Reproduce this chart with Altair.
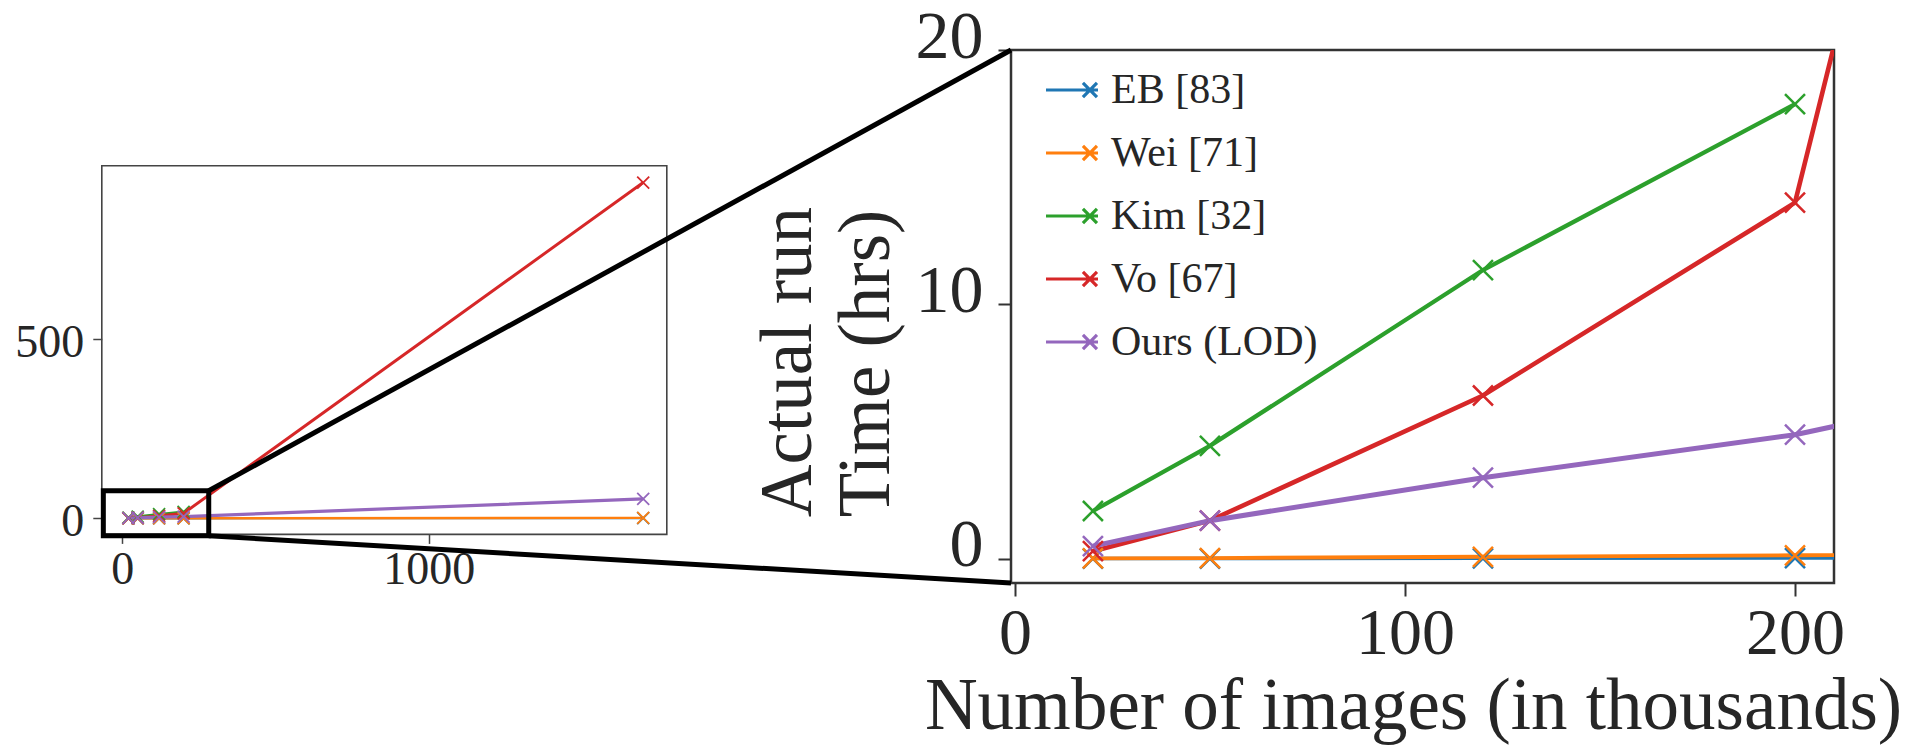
import altair as alt
import pandas as pd

# ---------------- data ----------------
methods = ["EB [83]", "Wei [71]", "Kim [32]", "Vo [67]", "Ours (LOD)"]
colors = ["#1f77b4", "#ff7f0e", "#2ca02c", "#d62728", "#9467bd"]
x_images = [20, 50, 120, 200, 1700]          # thousands of images
eb_hrs = [0.01, 0.01, 0.02, 0.03, 0.3]
wei_hrs = [0.02, 0.03, 0.08, 0.14, 1.2]
kim_hrs = [1.88, 4.44, 11.35, 17.87]
vo_hrs = [0.3, 1.5, 6.42, 14.0, 938]
ours_hrs = [0.5, 1.5, 3.19, 4.88, 54]

big_x_ticks = [0, 100, 200]
big_y_ticks = [0, 10, 20]
small_x_ticks = [0, 1000]
small_y_ticks = [0, 500]

big_x_domain = [-1, 210]
big_y_domain = [-0.95, 20]
small_x_domain = [-67, 1777]
small_y_domain = [-45, 985]
zoom_x = [-62, 282]
zoom_y = [-49, 77]

# ---------------- layout (pixels) ----------------
FONT = "Liberation Serif"
TXT = "#262626"
W, H = 823, 533
PAD_L, PAD_T = 1003, 42
# overview panel box, in the main plot's pixel frame
SX_RANGE = [-909.2, -344.2]
SY_RANGE = [484.4, 115.7]

series = [eb_hrs, wei_hrs, kim_hrs, vo_hrs, ours_hrs]
rows = []
for m, ys in zip(methods, series):
    for xv, yv in zip(x_images, ys):
        rows.append({"method": m, "x": xv, "y": yv})
df = pd.DataFrame(rows)


def sx(v):
    d0, d1 = small_x_domain
    r0, r1 = SX_RANGE
    return r0 + (v - d0) / (d1 - d0) * (r1 - r0)


def sy(v):
    d0, d1 = small_y_domain
    r0, r1 = SY_RANGE
    return r0 + (v - d0) / (d1 - d0) * (r1 - r0)


XPATH = "M-1,-1L1,1M-1,1L1,-1"
LEGPATH = "M-1,0L1,0M0.42,-0.27L0.96,0.27M0.42,0.27L0.96,-0.27"

legend = alt.Legend(
    orient="none", legendX=33, legendY=12, title=None,
    symbolType=LEGPATH, symbolSize=2704, symbolStrokeWidth=3.2,
    symbolFillColor="transparent",
    labelFont=FONT, labelFontSize=42, labelColor=TXT, labelOffset=11,
    rowPadding=14, padding=0, labelLimit=400,
)
color_scale = alt.Scale(domain=methods, range=colors)
color_enc = alt.Color("method:N", scale=color_scale, legend=legend)

# ---------------- overview (small) panel ----------------
xs = alt.X("x:Q", title=None,
           scale=alt.Scale(domain=small_x_domain, range=SX_RANGE, nice=False, zero=False),
           axis=alt.Axis(orient="bottom", offset=SY_RANGE[0] - H, values=small_x_ticks,
                         tickSize=9, tickWidth=1.5, tickColor="#444", domain=False, grid=False,
                         labelFont=FONT, labelFontSize=46, labelColor=TXT, labelPadding=4,
                         labelFlush=False, format="d"))
ys_ = alt.Y("y:Q", title=None,
            scale=alt.Scale(domain=small_y_domain, range=SY_RANGE, nice=False, zero=False),
            axis=alt.Axis(orient="left", offset=-SX_RANGE[0], values=small_y_ticks,
                          tickSize=9, tickWidth=1.5, tickColor="#444", domain=False, grid=False,
                          labelFont=FONT, labelFontSize=46, labelColor=TXT, labelPadding=9,
                          labelOffset=3, labelFlush=False, format="d"))

small_lines = alt.Chart(df).mark_line().encode(
    x=xs, y=ys_, color=color_enc,
    strokeWidth=alt.StrokeWidth("method:N", scale=alt.Scale(domain=methods, range=[2.2, 3.2, 2.5, 2.6, 3.2]), legend=None),
    order=alt.Order("x:Q"),
)
small_pts = alt.Chart(df).mark_point(shape=XPATH, filled=False, size=144, strokeWidth=1.8, opacity=1).encode(
    x=xs, y=ys_, color=color_enc,
)
frame_df = pd.DataFrame([{"x": small_x_domain[0], "x2": small_x_domain[1],
                          "y": small_y_domain[0], "y2": small_y_domain[1]}])
small_frame = alt.Chart(frame_df).mark_rect(fillOpacity=0, stroke="#444", strokeWidth=1.6).encode(
    x=xs, x2="x2:Q", y=ys_, y2="y2:Q")
zoom_df = pd.DataFrame([{"x": zoom_x[0], "x2": zoom_x[1], "y": zoom_y[0], "y2": zoom_y[1]}])
zoom_rect = alt.Chart(zoom_df).mark_rect(fillOpacity=0, stroke="black", strokeWidth=5).encode(
    x=xs, x2="x2:Q", y=ys_, y2="y2:Q")

small = alt.layer(small_lines, small_pts, small_frame, zoom_rect)

# ---------------- connectors ----------------
conn_df = pd.DataFrame([
    {"px": sx(zoom_x[1]), "py": sy(zoom_y[1]), "px2": 0, "py2": 0},
    {"px": sx(zoom_x[1]), "py": sy(zoom_y[0]), "px2": 0, "py2": H},
])
connectors = alt.Chart(conn_df).mark_rule(color="black", strokeWidth=5).encode(
    x=alt.X("px:Q", scale=None, axis=None), x2="px2:Q",
    y=alt.Y("py:Q", scale=None, axis=None), y2="py2:Q",
)

# ---------------- main (zoomed) panel ----------------
xb = alt.X("x:Q",
           scale=alt.Scale(domain=big_x_domain, nice=False, zero=False),
           axis=alt.Axis(orient="bottom", values=big_x_ticks, tickSize=13, tickWidth=2,
                         tickColor="#333", domain=False, grid=False,
                         labelFont=FONT, labelFontSize=66, labelColor=TXT, labelPadding=5,
                         labelFlush=False, format="d",
                         title="Number of images (in thousands)", titleFont=FONT,
                         titleFontSize=73, titleColor=TXT, titleFontWeight="normal",
                         titleX=402, titleY=145, titleAlign="center", titleBaseline="alphabetic"))
yb = alt.Y("y:Q",
           scale=alt.Scale(domain=big_y_domain, nice=False, zero=False),
           axis=alt.Axis(orient="left", values=big_y_ticks, tickSize=13, tickWidth=2,
                         tickColor="#333", domain=False, grid=False,
                         labelFont=FONT, labelFontSize=68, labelColor=TXT, labelPadding=15,
                         labelOffset=-13, labelFlush=False, format="d",
                         title=["Actual run", "Time (hrs)"], titleFont=FONT,
                         titleFontSize=73, titleColor=TXT, titleFontWeight="normal",
                         titleAngle=270, titleX=-201, titleY=466.7, titleAlign="left",
                         titleBaseline="alphabetic", titleLineHeight=78))

big_lines = alt.Chart(df).mark_line(clip=True).encode(
    x=xb, y=yb, color=color_enc,
    strokeWidth=alt.StrokeWidth("method:N", scale=alt.Scale(domain=methods, range=[3.5, 5, 4, 4, 5.5]), legend=None),
    order=alt.Order("x:Q"),
)
big_pts = alt.Chart(df).mark_point(shape=XPATH, filled=False, size=400, strokeWidth=2.5, opacity=1, clip=True).encode(
    x=xb, y=yb, color=color_enc,
)
big = alt.layer(big_lines, big_pts)

chart = alt.layer(small, connectors, big).resolve_scale(
    x="independent", y="independent", strokeWidth="independent"
).properties(
    width=W, height=H,
    autosize=alt.AutoSizeParams(type="none"),
    padding={"left": PAD_L, "top": PAD_T, "right": 75, "bottom": 163},
).configure_view(stroke="#333", strokeWidth=2.5).configure_legend(
    labelFont=FONT, labelFontSize=42, labelColor=TXT
)

chart.save("out.html", embed_options={"renderer": "svg", "actions": False})
